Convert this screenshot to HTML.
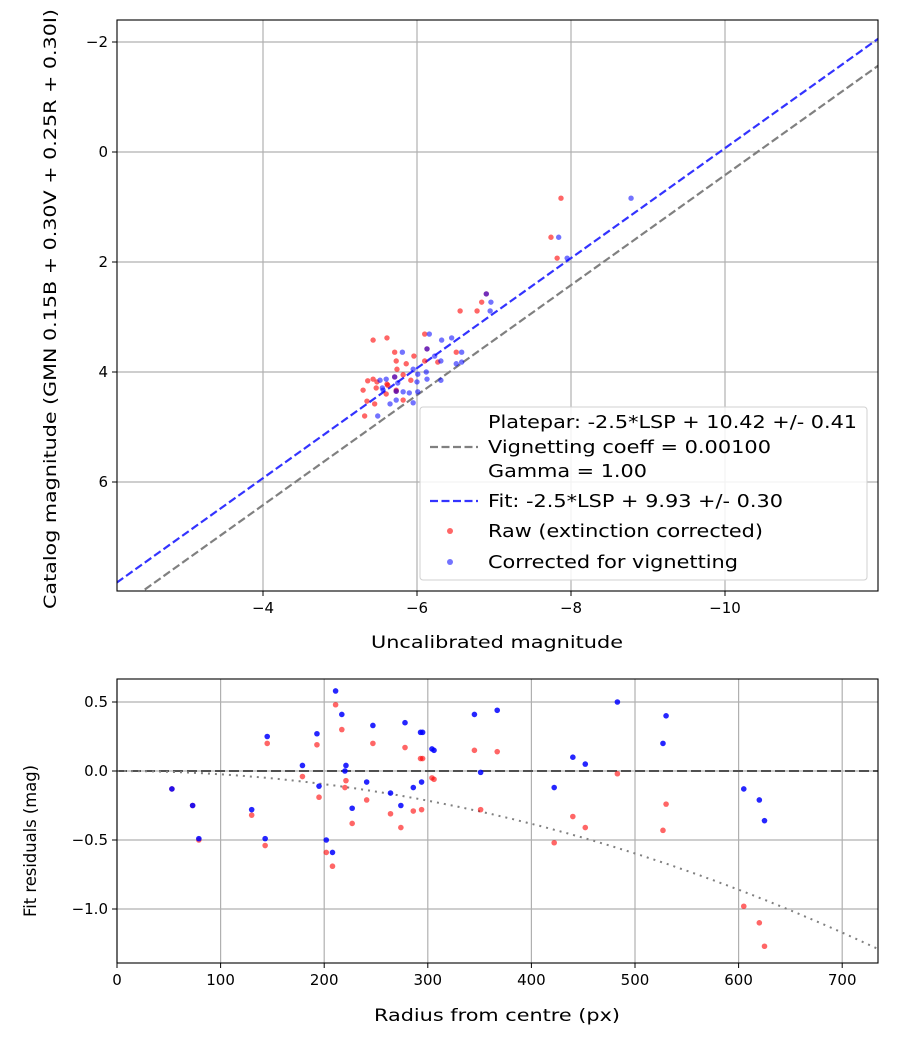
<!DOCTYPE html>
<html><head><meta charset="utf-8">
<style>
body{margin:0;background:#fff;}
svg{display:block;font-family:"DejaVu Sans","Liberation Sans",sans-serif;}
</style></head>
<body>
<svg id="chart" width="900" height="1050" viewBox="0 0 900 1050"></svg>
<script>
// ---- Top panel data ----
const rawPoints = [[-7.87,0.84],[-7.74,1.55],[-7.82,1.93],[-6.90,2.58],[-6.84,2.73],[-6.78,2.89],[-6.56,2.89],[-6.10,3.31],[-5.43,3.42],[-5.61,3.38],[-5.71,3.64],[-5.96,3.71],[-6.13,3.58],[-6.51,3.64],[-5.73,3.80],[-5.86,3.85],[-6.27,3.82],[-6.10,3.80],[-5.74,3.95],[-5.82,4.05],[-5.92,4.15],[-5.36,4.16],[-5.43,4.13],[-5.48,4.18],[-5.61,4.22],[-5.71,4.09],[-5.30,4.33],[-5.47,4.29],[-5.62,4.24],[-5.73,4.33],[-5.73,4.35],[-5.82,4.51],[-5.35,4.53],[-5.45,4.58],[-5.32,4.80],[-5.60,4.40]];
const corrPoints = [[-8.78,0.84],[-7.84,1.55],[-7.95,1.93],[-6.90,2.58],[-6.96,2.73],[-6.95,2.89],[-6.16,3.31],[-6.32,3.42],[-6.45,3.38],[-5.81,3.64],[-6.13,3.58],[-6.58,3.64],[-6.23,3.71],[-6.31,3.80],[-6.51,3.85],[-6.58,3.82],[-5.95,3.95],[-6.12,4.00],[-6.01,4.04],[-6.00,4.18],[-6.13,4.13],[-6.31,4.15],[-5.52,4.15],[-5.60,4.13],[-5.71,4.09],[-5.55,4.29],[-5.56,4.33],[-5.82,4.36],[-5.90,4.38],[-6.01,4.36],[-5.73,4.35],[-5.95,4.56],[-5.65,4.58],[-5.73,4.51],[-5.49,4.80],[-5.75,4.20]];
const plateparOffset = 10.42;
const fitOffset = 9.93;
const topXTicks = [-4,-6,-8,-10];
const topYTicks = [-2,0,2,4,6];
// ---- Bottom panel data ----
const radii = [53,73,79,130,145,143,179,193,195,202,208,211,217,221,220,227,241,247,264,274,278,286,293,295,294,304,306,345,351,367,422,440,452,483,527,530,605,620,625];
const residCorr = [-0.13,-0.25,-0.49,-0.28,0.25,-0.49,0.04,0.27,-0.11,-0.50,-0.59,0.58,0.41,0.04,0.00,-0.27,-0.08,0.33,-0.16,-0.25,0.35,-0.12,0.28,0.28,-0.08,0.16,0.15,0.41,-0.01,0.44,-0.12,0.10,0.05,0.50,0.20,0.40,-0.13,-0.21,-0.36];
const residRaw = [-0.13,-0.25,-0.50,-0.32,0.20,-0.54,-0.04,0.19,-0.19,-0.59,-0.69,0.48,0.30,-0.07,-0.12,-0.38,-0.21,0.20,-0.31,-0.41,0.17,-0.29,0.09,0.09,-0.28,-0.05,-0.06,0.15,-0.28,0.14,-0.52,-0.33,-0.41,-0.02,-0.43,-0.24,-0.98,-1.10,-1.27];
const botXTicks = [0,100,200,300,400,500,600,700];
const botYTicks = [0.5,0.0,-0.5,-1.0];
const vignCoeff = 2.39e-6;

const NS="http://www.w3.org/2000/svg";
const svg=document.getElementById('chart');
function mk(tag,attrs,parent){const e=document.createElementNS(NS,tag);for(const k in attrs)e.setAttribute(k,attrs[k]);(parent||svg).appendChild(e);return e;}

const T={l:117,r:878,t:20,b:591};
const tx=v=>263+(-4-v)*77;
const ty=v=>152+v*55;
const B={l:117,r:878,t:679,b:963};
const bx=v=>117+v*1.036;
const by=v=>771-v*138;
const minus=v=>(v<0?'\u2212':'')+Math.abs(v);

const gTop=mk('g',{});


topXTicks.forEach(v=>{mk('line',{x1:tx(v),x2:tx(v),y1:T.t,y2:T.b,stroke:'#b0b0b0','stroke-width':1.2},gTop);});
topYTicks.forEach(v=>{mk('line',{x1:T.l,x2:T.r,y1:ty(v),y2:ty(v),stroke:'#b0b0b0','stroke-width':1.2},gTop);});

const defs=mk('defs',{});
const cp=mk('clipPath',{id:'ct'},defs);mk('rect',{x:T.l,y:T.t,width:T.r-T.l,height:T.b-T.t},cp);
const cp2=mk('clipPath',{id:'cb'},defs);mk('rect',{x:B.l,y:B.t,width:B.r-B.l,height:B.b-B.t},cp2);

const pl=mk('g',{'clip-path':'url(#ct)'});
const xa=-2.1,xb=-12;
const l1=mk('line',{x1:tx(xa),y1:ty(xa+plateparOffset),x2:tx(xb),y2:ty(xb+plateparOffset),stroke:'#808080','stroke-width':2.2,'stroke-dasharray':'8,3.5'},pl);


const l2=mk('line',{x1:tx(xa),y1:ty(xa+fitOffset),x2:tx(xb),y2:ty(xb+fitOffset),stroke:'#3333ff','stroke-width':2.2,'stroke-dasharray':'8,3.5'},pl);


rawPoints.forEach(p=>{const c=mk('circle',{cx:tx(p[0]),cy:ty(p[1]),r:2.7,fill:'#ff0000','fill-opacity':0.6},pl);

});
corrPoints.forEach(p=>{const c=mk('circle',{cx:tx(p[0]),cy:ty(p[1]),r:2.7,fill:'#0000ff','fill-opacity':0.55},pl);

});

mk('rect',{x:T.l,y:T.t,width:T.r-T.l,height:T.b-T.t,fill:'none',stroke:'#000','stroke-width':1.1});
topXTicks.forEach(v=>{mk('line',{x1:tx(v),x2:tx(v),y1:T.b,y2:T.b+5,stroke:'#000'});
const t=mk('text',{x:tx(v),y:T.b+22,'text-anchor':'middle','font-size':15});t.textContent=minus(v);

});
topYTicks.forEach(v=>{mk('line',{x1:T.l-5,x2:T.l,y1:ty(v),y2:ty(v),stroke:'#000'});
const t=mk('text',{x:T.l-9,y:ty(v)+5,'text-anchor':'end','font-size':15});t.textContent=minus(v);

});
let t=mk('text',{x:497,y:648,'text-anchor':'middle','font-size':17,textLength:252,lengthAdjust:'spacingAndGlyphs'});t.textContent='Uncalibrated magnitude';


t=mk('text',{x:56,y:309,'text-anchor':'middle','font-size':17,textLength:600,lengthAdjust:'spacingAndGlyphs',transform:'rotate(-90 56 309)'});t.textContent='Catalog magnitude (GMN 0.15B + 0.30V + 0.25R + 0.30I)';



const lg=mk('g',{});


mk('rect',{x:420,y:407,width:447,height:173,rx:3,fill:'#fff','fill-opacity':0.85,stroke:'#d0d0d0'},lg);
mk('line',{x1:430,x2:478,y1:447,y2:447,stroke:'#808080','stroke-width':2.2,'stroke-dasharray':'8,3.5'},lg);
mk('line',{x1:430,x2:478,y1:501,y2:501,stroke:'#3333ff','stroke-width':2.2,'stroke-dasharray':'8,3.5'},lg);
mk('circle',{cx:450,cy:531,r:3,fill:'#ff0000','fill-opacity':0.6},lg);
mk('circle',{cx:450,cy:562,r:3,fill:'#0000ff','fill-opacity':0.55},lg);
[['Platepar: -2.5*LSP + 10.42 +/- 0.41',428,369],['Vignetting coeff = 0.00100',453,283],['Gamma = 1.00',477,159],['Fit: -2.5*LSP + 9.93 +/- 0.30',507,295],['Raw (extinction corrected)',537,275],['Corrected for vignetting',568,250]].forEach(a=>{
const e=mk('text',{x:488,y:a[1],'font-size':18,textLength:a[2],lengthAdjust:'spacingAndGlyphs'},lg);e.textContent=a[0];

});

const gB=mk('g',{});


botXTicks.forEach(v=>mk('line',{x1:bx(v),x2:bx(v),y1:B.t,y2:B.b,stroke:'#b0b0b0','stroke-width':1.2},gB));
botYTicks.forEach(v=>mk('line',{x1:B.l,x2:B.r,y1:by(v),y2:by(v),stroke:'#b0b0b0','stroke-width':1.2},gB));
const pb=mk('g',{'clip-path':'url(#cb)'});
const z=mk('line',{x1:B.l,x2:B.r,y1:by(0),y2:by(0),stroke:'#505050','stroke-width':2,'stroke-dasharray':'10,4'},pb);


let d='';for(let r=0;r<=740;r+=5){d+=(r?'L':'M')+bx(r).toFixed(1)+','+by(-vignCoeff*r*r).toFixed(1);}
const vc=mk('path',{d:d,fill:'none',stroke:'#808080','stroke-width':2,'stroke-dasharray':'2,5'},pb);


radii.forEach((r,i)=>{const c=mk('circle',{cx:bx(r),cy:by(residRaw[i]),r:2.8,fill:'#ff0000','fill-opacity':0.6},pb);

});
radii.forEach((r,i)=>{const c=mk('circle',{cx:bx(r),cy:by(residCorr[i]),r:2.8,fill:'#0000ff','fill-opacity':0.85},pb);

});
mk('rect',{x:B.l,y:B.t,width:B.r-B.l,height:B.b-B.t,fill:'none',stroke:'#000','stroke-width':1.1});
botXTicks.forEach(v=>{mk('line',{x1:bx(v),x2:bx(v),y1:B.b,y2:B.b+5,stroke:'#000'});
const e=mk('text',{x:bx(v),y:B.b+22,'text-anchor':'middle','font-size':15});e.textContent=v;

});
botYTicks.forEach(v=>{mk('line',{x1:B.l-5,x2:B.l,y1:by(v),y2:by(v),stroke:'#000'});
const e=mk('text',{x:B.l-9,y:by(v)+5,'text-anchor':'end','font-size':15});e.textContent=(v<0?'\u2212':'')+Math.abs(v).toFixed(1);

});
t=mk('text',{x:497,y:1021,'text-anchor':'middle','font-size':17,textLength:246,lengthAdjust:'spacingAndGlyphs'});t.textContent='Radius from centre (px)';


t=mk('text',{x:36,y:841,'text-anchor':'middle','font-size':17,textLength:152,lengthAdjust:'spacingAndGlyphs',transform:'rotate(-90 36 841)'});t.textContent='Fit residuals (mag)';


</script>
</body></html>
